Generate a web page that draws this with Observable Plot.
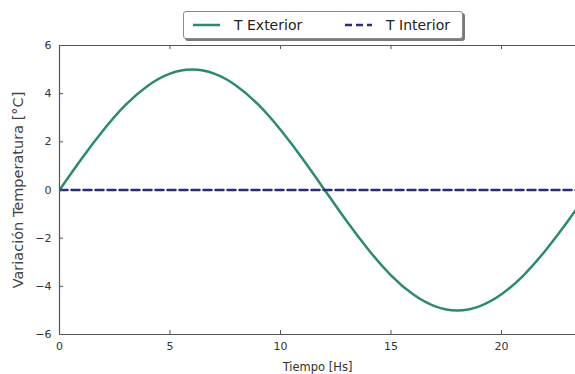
<!DOCTYPE html>
<html>
<head>
<meta charset="utf-8">
<script src="https://cdn.jsdelivr.net/npm/d3@7"></script>
<script src="https://cdn.jsdelivr.net/npm/@observablehq/plot@0.6"></script>
<style>
  body { margin: 0; background: #fff; font-family: "DejaVu Sans", sans-serif; }
  #wrap { position: relative; width: 575px; height: 374px; overflow: hidden; }
  #legend { position: absolute; left: 183px; top: 11px; width: 280px; height: 28px;
    border: 1px solid #8a8a8a; border-radius: 3px; background: #fff;
    box-shadow: 2px 2px 0 #7a7a7a; box-sizing: border-box; font-size: 14px; color: #222; }
  .item { position: absolute; top: 0; height: 100%; display: flex; align-items: center; }
  .item svg { margin-right: 14px; }
</style>
</head>
<body>
<div id="wrap"><div id="legend"></div></div>
<script>
const hours = [0,1,2,3,4,5,6,7,8,9,10,11,12,13,14,15,16,17,18,19,20,21,22,23,24];
const tExterior = [0,1.3,2.5,3.54,4.33,4.83,5.0,4.83,4.33,3.54,2.5,1.3,0,-1.3,-2.5,-3.54,-4.33,-4.83,-5.0,-4.83,-4.33,-3.54,-2.5,-1.3,0];
const tInterior = [0,0,0,0,0,0,0,0,0,0,0,0,0,0,0,0,0,0,0,0,0,0,0,0,0];
const seriesNames = ["T Exterior", "T Interior"];
const seriesColors = ["#2e8a6c", "#2c2c7e"];
const xTicks = [0,5,10,15,20];
const yTicks = [-6,-4,-2,0,2,4,6];
const xLabel = "Tiempo [Hs]";
const yLabel = "Variación Temperatura [°C]";

const ext = hours.map((h,i) => ({h, v: tExterior[i]}));
const int = hours.map((h,i) => ({h, v: tInterior[i]}));
const axisColor = "#555";

const chart = Plot.plot({
  width: 575, height: 374,
  marginLeft: 59, marginRight: 0, marginTop: 45, marginBottom: 40,
  style: {fontFamily: "DejaVu Sans, sans-serif", fontSize: "11px", color: "#333", background: "transparent"},
  x: {domain: [0, 23.35]},
  y: {domain: [-6, 6]},
  marks: [
    Plot.line(ext, {x: "h", y: "v", stroke: seriesColors[0], strokeWidth: 2.5, curve: "natural", clip: true}),
    Plot.line(int, {x: "h", y: "v", stroke: seriesColors[1], strokeWidth: 2.5, strokeDasharray: "8,4", clip: true}),
    Plot.ruleY([-6, 6], {stroke: axisColor, strokeWidth: 1.2}),
    Plot.ruleX([0], {stroke: axisColor, strokeWidth: 1.2}),
    Plot.tickX(xTicks, {x: d => d, stroke: axisColor, insetTop: 285}),
    Plot.tickX(xTicks, {x: d => d, stroke: axisColor, insetBottom: 285}),
    Plot.tickY(yTicks, {y: d => d, stroke: axisColor, insetRight: 512}),
    Plot.axisX(xTicks, {tickSize: 0, tickPadding: 8, label: null, fill: "#333"}),
    Plot.axisY(yTicks, {tickSize: 0, tickPadding: 8, label: null, fill: "#333"}),
    Plot.text([xLabel], {frameAnchor: "bottom", dy: 36, fontSize: 11.5, fill: "#333"}),
    Plot.text([yLabel], {frameAnchor: "left", textAnchor: "middle", dx: -41, rotate: -90, fontSize: 14.5, fill: "#444"})
  ]
});
document.getElementById("wrap").prepend(chart);

const legend = document.getElementById("legend");
const lefts = [9, 161];
seriesNames.forEach((name, i) => {
  const it = document.createElement("div");
  it.className = "item";
  it.style.left = lefts[i] + "px";
  const dash = i === 1 ? 'stroke-dasharray="7,4"' : "";
  it.innerHTML = `<svg width="27" height="6"><line x1="0" y1="3" x2="27" y2="3" stroke="${seriesColors[i]}" stroke-width="2.5" ${dash}/></svg><span>${name}</span>`;
  legend.appendChild(it);
});
</script>
</body>
</html>
